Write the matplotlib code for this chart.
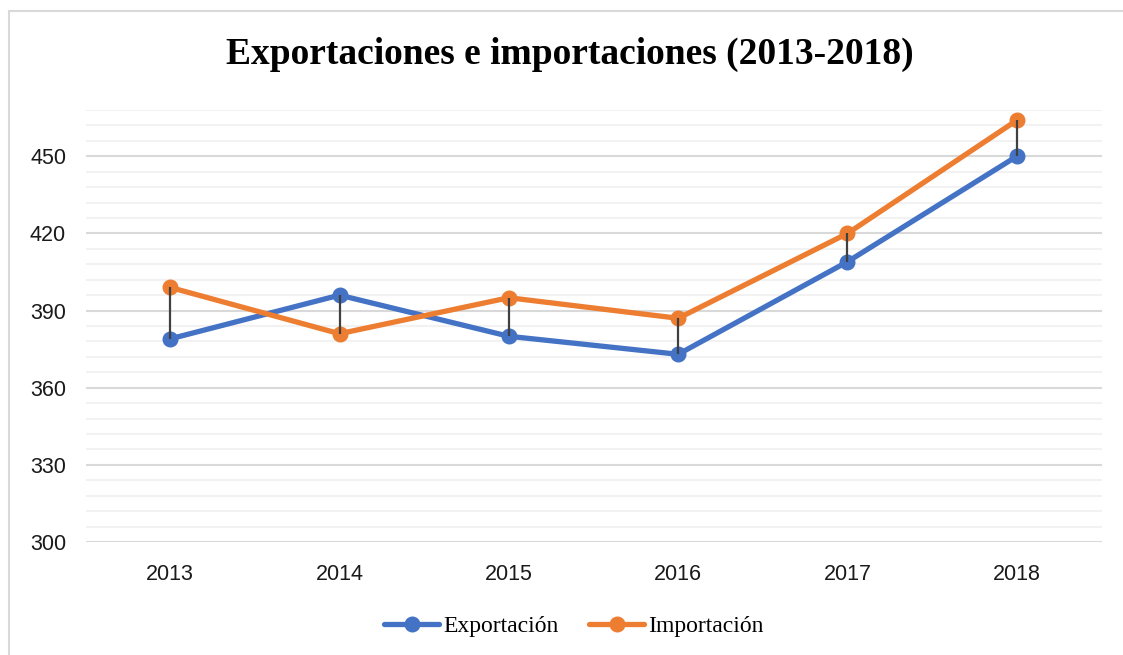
import matplotlib
matplotlib.use("Agg")
import matplotlib.pyplot as plt
from matplotlib.patches import Rectangle
from matplotlib.lines import Line2D
import numpy as np

years = ["2013", "2014", "2015", "2016", "2017", "2018"]
exportacion = [379, 396, 380, 373, 409, 450]
importacion = [399, 381, 395, 387, 420, 464]
y_ticks = [300, 330, 360, 390, 420, 450]
title = "Exportaciones e importaciones (2013-2018)"

blue = "#4472C4"
orange = "#ED7D31"

fig = plt.figure(figsize=(11.23, 6.55), dpi=100)
ax = fig.add_axes([85.5 / 1123, 1 - 542 / 655, (1101.5 - 85.5) / 1123, (542 - 110) / 655])

x = np.arange(len(years))
ax.set_xlim(-0.5, len(years) - 0.5)
ax.set_ylim(300, 468)

# gridlines
for v in np.arange(300, 469, 6):
    if v % 30 == 0:
        ax.axhline(v, color="#d9d9d9", lw=1.5, zorder=1)
    else:
        ax.axhline(v, color="#f2f2f2", lw=1.5, zorder=1)

ax.plot(x, exportacion, color=blue, lw=3.8, marker="o", ms=10.5, zorder=3, solid_capstyle="round")
ax.plot(x, importacion, color=orange, lw=3.8, marker="o", ms=10.5, zorder=3, solid_capstyle="round")

# high-low lines
ax.vlines(x, np.minimum(exportacion, importacion), np.maximum(exportacion, importacion),
          color="#404040", lw=1.6, zorder=5)

for s in ax.spines.values():
    s.set_visible(False)
ax.set_xticks(x)
ax.set_xticklabels(years)
ax.set_yticks(y_ticks)
ax.tick_params(axis="both", length=0, labelsize=15.5, labelcolor="#1a1a1a")
ax.tick_params(axis="x", pad=16)
ax.tick_params(axis="y", pad=14)
for lab in ax.get_xticklabels() + ax.get_yticklabels():
    lab.set_fontfamily("Liberation Sans")

fig.text(570 / 1123, 1 - 54 / 655, title, ha="center", va="center",
         fontfamily="Liberation Serif", fontweight="bold", fontsize=27)

handles = [Line2D([], [], color=blue, lw=3.8, marker="o", ms=10.5, solid_capstyle="round"),
           Line2D([], [], color=orange, lw=3.8, marker="o", ms=10.5, solid_capstyle="round")]
fig.legend(handles, ["Exportación", "Importación"], loc="center", bbox_to_anchor=(574 / 1123, 1 - 626 / 655),
           ncol=2, frameon=False, prop={"family": "Liberation Serif", "size": 17},
           handlelength=2.33, handletextpad=0.17, columnspacing=1.3)

# chart border
fig.patches.append(Rectangle((9 / 1123, -0.1), 1.2, 1 - 11 / 655 + 0.1, transform=fig.transFigure,
                             fill=False, edgecolor="#d9d9d9", lw=1.5))

fig.savefig("out.png", dpi=100)
